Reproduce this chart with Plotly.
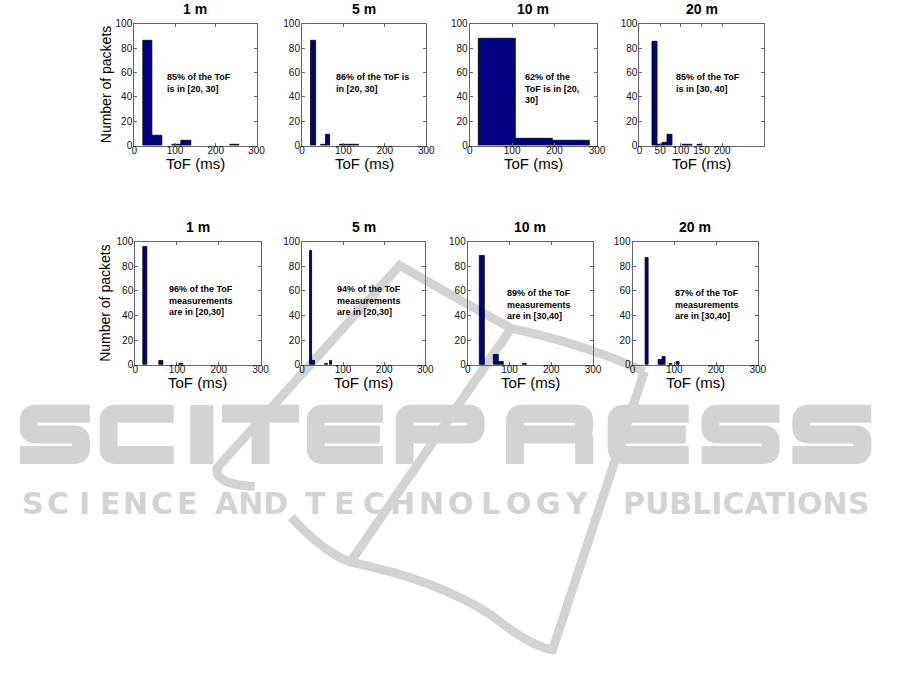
import math
import plotly.graph_objects as go

W, H = 901, 690

# ---------------- data ----------------
titles = ["1 m", "5 m", "10 m", "20 m"]

top_bin_start = [21, 22, 22, 31]
top_bin_width = [23.7, 11.6, 87, 12]
top_counts = [
    [86, 8, 0, 1, 4, 0, 0, 0, 0, 1],
    [86, 0, 1, 9, 0, 0, 1, 1, 1, 1],
    [88, 6, 4],
    [85, 1, 2, 9, 0, 0, 1, 1, 0, 1],
]
top_notes = [
    "85% of the ToF<br>is in [20, 30]",
    "86% of the ToF is<br>in [20, 30]",
    "62% of the<br>ToF is in [20,<br>30]",
    "85% of the ToF<br>is in [30, 40]",
]

bottom_bin_start = [20, 20, 29, 30]
bottom_bin_width = [9.5, 5.26, 11.3, 8.3]
bottom_counts = [
    [96, 0, 0, 0, 3, 0, 0, 0, 0, 1],
    [93, 3, 0, 0, 0, 0, 0, 1, 0, 3],
    [89, 0, 0, 8, 2, 0, 0, 0, 0, 1],
    [87, 0, 0, 0, 4, 6, 0, 1, 0, 2],
]
bottom_notes = [
    "96% of the ToF<br>measurements<br>are in [20,30]",
    "94% of the ToF<br>measurements<br>are in [20,30]",
    "89% of the ToF<br>measurements<br>are in [30,40]",
    "87% of the ToF<br>measurements<br>are in [30,40]",
]

x_ticks_default = [0, 100, 200, 300]
x_ticks_top20 = [0, 50, 100, 150, 200]
y_ticks = [0, 20, 40, 60, 80, 100]
x_label = "ToF (ms)"
y_label = "Number of packets"

# ---------------- layout (pixel boxes) ----------------
top_boxes = [(133, 257), (303, 429), (473, 602), (645, 771)]
top_y = (18, 142)
bottom_boxes = [(134, 261), (303, 428), (471, 598), (638, 765)]
bottom_y = (240, 365)
top_note_pos = [(164, 65), (335, 65), (527, 65), (680, 65)]
bottom_note_pos = [(166, 281), (336, 281), (509, 285), (679, 285)]


def px(x):
    return x / W


def py(y):
    return 1 - y / H


BAR_COLOR = "#000080"
AXIS_COLOR = "#666666"
FONT = "Liberation Sans, Arial, sans-serif"
TICK_FONT = dict(family=FONT, size=10, color="#111")

fig = go.Figure()
annotations = []
axis_layout = {}

panels = []
for i in range(4):
    panels.append(("top", i, top_boxes[i], top_y, top_bin_start[i], top_bin_width[i],
                   top_counts[i], top_notes[i], top_note_pos[i]))
for i in range(4):
    panels.append(("bottom", i, bottom_boxes[i], bottom_y, bottom_bin_start[i],
                   bottom_bin_width[i], bottom_counts[i], bottom_notes[i],
                   bottom_note_pos[i]))

for k, (row, col, (x0, x1), (y0, y1), start, width, counts, note, npos) in enumerate(panels):
    idx = k + 1
    xa = "x" if idx == 1 else f"x{idx}"
    ya = "y" if idx == 1 else f"y{idx}"
    centers = [start + width * (j + 0.5) for j in range(len(counts))]
    fig.add_trace(go.Bar(
        x=centers, y=counts, width=[width] * len(counts),
        marker=dict(color=BAR_COLOR,
                    line=dict(color="black", width=[0.8 if c > 0 else 0 for c in counts])),
        xaxis=xa, yaxis=ya, showlegend=False, hoverinfo="x+y",
    ))
    xticks = x_ticks_top20 if (row == "top" and col == 3) else x_ticks_default
    common = dict(showline=True, linecolor=AXIS_COLOR, linewidth=1, mirror="ticks",
                  ticks="inside", ticklen=3, tickcolor=AXIS_COLOR, showgrid=False,
                  zeroline=False, tickfont=TICK_FONT, fixedrange=True)
    axis_layout["xaxis" if idx == 1 else f"xaxis{idx}"] = dict(
        domain=[px(x0), px(x1)], range=[0, 300], tickvals=xticks,
        anchor=ya, ticklabelstandoff=-5, **common)
    axis_layout["yaxis" if idx == 1 else f"yaxis{idx}"] = dict(
        domain=[py(y1), py(y0)], range=[0, 100], tickvals=y_ticks,
        anchor=xa, ticklabelstandoff=-1, **common)

    annotations.append(dict(
        text=f"<b>{titles[col]}</b>", x=px((x0 + x1) / 2), y=py(y0 - 15),
        xref="paper", yref="paper", showarrow=False, xanchor="center", yanchor="middle",
        font=dict(family=FONT, size=14, color="black")))
    annotations.append(dict(
        text=x_label, x=px((x0 + x1) / 2), y=py(y1 + 18),
        xref="paper", yref="paper", showarrow=False, xanchor="center", yanchor="middle",
        font=dict(family=FONT, size=15, color="black")))
    annotations.append(dict(
        text=f"<b>{note}</b>", x=px(npos[0]), y=py(npos[1]), align="left",
        xref="paper", yref="paper", showarrow=False, xanchor="left", yanchor="top",
        font=dict(family=FONT, size=9, color="black")))

for (x0, x1), (y0, y1) in [(top_boxes[0], top_y), (bottom_boxes[0], bottom_y)]:
    annotations.append(dict(
        text=y_label, x=px(104), y=py((y0 + y1) / 2), textangle=-90,
        xref="paper", yref="paper", showarrow=False, xanchor="center", yanchor="middle",
        font=dict(family=FONT, size=14, color="black")))

# ---------------- watermark (decoration) ----------------
WM = "#d3d3d3"


def path(cmds):
    out = []
    for c in cmds:
        if isinstance(c, str):
            out.append(c)
        else:
            out.append(f"{px(c[0]):.5f},{py(c[1]):.5f}")
    return " ".join(out)


def towards(v, p, r):
    dx, dy = p[0] - v[0], p[1] - v[1]
    d = math.hypot(dx, dy)
    if d == 0:
        return v
    r = min(r, d / 2)
    return (v[0] + dx / d * r, v[1] + dy / d * r)


def rounded(points, r=7):
    cmds = ["M", points[0]]
    for i in range(1, len(points) - 1):
        a = towards(points[i], points[i - 1], r)
        b = towards(points[i], points[i + 1], r)
        cmds += ["L", a, "Q", points[i], b]
    cmds += ["L", points[-1]]
    return cmds


wm_big = "SCITEPRESS"
wm_big_box = [(17, 88), (98, 173), (190, 213), (222, 300), (308, 385),
              (398, 488), (510, 598), (613, 695), (708, 787), (800, 880)]
T_, B_, S_ = 406, 466, 18
shapes = []
for ch, (L, R) in zip(wm_big, wm_big_box):
    h = S_ / 2
    xl, xr, yt, yb, ym, xc = L + h, R - h, T_ + h, B_ - h, (T_ + B_) / 2, (L + R) / 2
    strokes = []
    lw = S_
    if ch == "S":
        strokes = [[(R, yt), (xl, yt), (xl, ym), (xr, ym), (xr, yb), (L, yb)]]
    elif ch == "C":
        strokes = [[(R, yt), (xl, yt), (xl, yb), (R, yb)]]
    elif ch == "E":
        strokes = [[(R, yt), (xl, yt), (xl, yb), (R, yb)], [(xl, ym), (R - 3, ym)]]
    elif ch == "I":
        strokes = [[(xc, T_), (xc, B_)]]
        lw = R - L
    elif ch == "T":
        strokes = [[(L, yt), (R, yt)], [(xc, yt), (xc, B_)]]
    elif ch == "P":
        strokes = [[(xl, B_), (xl, yt), (xr, yt), (xr, ym), (xl, ym)]]
    elif ch == "R":
        strokes = [[(xl, B_), (xl, yt), (xr, yt), (xr, ym), (xl, ym)], [(xr, ym), (xr, B_)]]
    cmds = []
    for st in strokes:
        cmds += rounded(st)
    shapes.append(dict(type="path", path=path(cmds), xref="paper", yref="paper",
                       line=dict(color=WM, width=lw), layer="below"))

wm_words = ["SCIENCE", "AND", "TECHNOLOGY", "PUBLICATIONS"]
wm_word_span = [(17, 200), (217, 287), (302, 597), (623, 883)]
wm_spread = [True, False, True, False]
WM_FONT = dict(family="DejaVu Sans", size=30, color=WM)
for word, (a, b), spread in zip(wm_words, wm_word_span, wm_spread):
    if spread:
        step = (b - a) / len(word)
        for j, ch in enumerate(word):
            annotations.append(dict(
                text=f"<b>{ch}</b>", x=px(a + step * (j + 0.5)), y=py(506),
                xref="paper", yref="paper", showarrow=False, xanchor="center",
                yanchor="middle", font=WM_FONT))
    else:
        annotations.append(dict(
            text=f"<b>{word}</b>", x=px((a + b) / 2), y=py(506),
            xref="paper", yref="paper", showarrow=False, xanchor="center",
            yanchor="middle", font=WM_FONT))

logo_paths = [
    ["M", (255, 489), "Q", (214, 487), (217, 470), "L", (402, 264),
     "Q", (460, 298), (515, 328), "Q", (590, 344), (650, 372)],
    ["M", (515, 328), "L", (352, 566)],
    ["M", (292, 520), "Q", (325, 556), (352, 566), "Q", (440, 584), (495, 620),
     "Q", (535, 652), (557, 655), "L", (650, 372)],
]
shapes += [dict(type="path", path=path(p), xref="paper", yref="paper",
                line=dict(color=WM, width=9), layer="below") for p in logo_paths]

fig.update_layout(
    width=W, height=H, margin=dict(l=0, r=0, t=0, b=0),
    paper_bgcolor="white", plot_bgcolor="rgba(0,0,0,0)",
    annotations=annotations, shapes=shapes, bargap=0, showlegend=False,
    **axis_layout,
)

fig.write_html(
    "out.html",
    config={"displayModeBar": False},
    post_script="document.body.style.margin='0px';document.body.style.overflow='hidden';",
)
